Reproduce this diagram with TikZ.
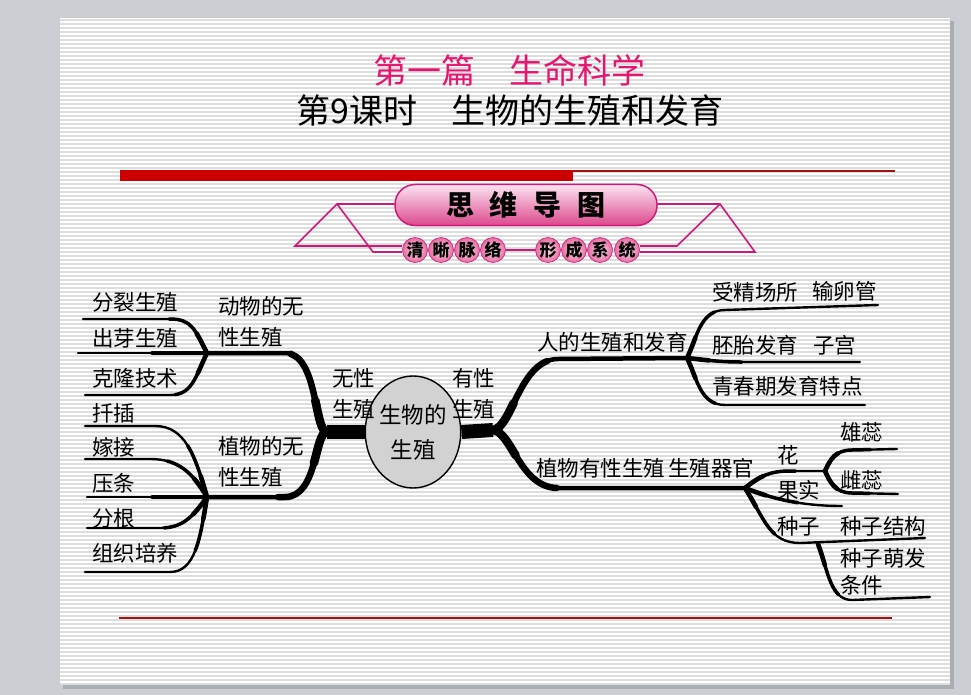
\documentclass[tikz,border=0pt]{standalone}
\usepackage{fontspec}
\setmainfont{Noto Sans CJK SC}
\usetikzlibrary{shapes.geometric}
\definecolor{bggray}{RGB}{203,207,212}
\definecolor{shadowgray}{RGB}{170,174,180}
\definecolor{stripe}{RGB}{221,221,221}
\definecolor{titlepink}{RGB}{230,22,112}
\definecolor{barred}{RGB}{204,0,0}
\definecolor{darkred}{RGB}{160,20,20}
\definecolor{bpink}{RGB}{208,24,122}
\definecolor{pillhi}{RGB}{252,228,240}
\definecolor{pilllo}{RGB}{220,72,142}
\definecolor{ballin}{RGB}{252,218,232}
\definecolor{ballout}{RGB}{228,108,160}
\definecolor{ellfill}{RGB}{210,210,210}
\begin{document}
\begin{tikzpicture}[x=1pt,y=-1pt,
  lbl/.style={inner sep=0pt, anchor=west, font=\fontsize{21.5}{31}\selectfont, align=left},
  trunk/.style={line width=14pt},
  branch/.style={line width=4.5pt, line cap=round,
     postaction={draw, line width=6.5pt, dash pattern=on 90pt off 3000pt},
     postaction={draw, line width=8.5pt, dash pattern=on 35pt off 3000pt}},
  twig/.style={line width=2.4pt, line cap=round,
     postaction={draw, line width=3.5pt, dash pattern=on 55pt off 3000pt},
     postaction={draw, line width=4.6pt, dash pattern=on 22pt off 3000pt}},
  pinkline/.style={draw=bpink, line width=1.6pt},
  ball/.style={circle, minimum size=25pt, inner sep=0pt, shading=radial, inner color=ballin, outer color=ballout, draw=bpink, line width=0.6pt, font=\fontsize{17}{17}\selectfont\bfseries}
]
\useasboundingbox (0,0) rectangle (971,695);
% screen and slide
\fill[bggray] (0,0) rectangle (971,695);
\fill[shadowgray] (63,21) rectangle (954,689);
\fill[white] (60,18) rectangle (950,685);
\foreach \y in {20,24,...,684} \draw[stripe, line width=1.3pt] (60,\y) -- (950,\y);

% titles
\node[font=\fontsize{34}{34}\selectfont, text=titlepink, inner sep=0pt] (t1) at (509,70) {第一篇　生命科学};
\node[font=\fontsize{34}{34}\selectfont, inner sep=0pt] (t2) at (510,111) {第9课时　生物的生殖和发育};

% red rules
\fill[barred] (120,170) rectangle (573,181);
\draw[darkred, line width=1.5pt] (573,171) -- (895,171);
\draw[darkred, line width=1.5pt] (119,618) -- (892,618);

% banner
\node[rectangle, rounded corners=20pt, minimum width=262pt, minimum height=41pt, inner sep=0pt,
      top color=pillhi, bottom color=pilllo, draw=bpink, line width=1.5pt,
      font=\fontsize{28}{28}\selectfont\bfseries] (banner) at (526,205) {思\hspace{16pt}维\hspace{16pt}导\hspace{16pt}图};
\node[ball] (b1) at (415,250) {清};
\node[ball] (b2) at (441,250) {晰};
\node[ball] (b3) at (467,250) {脉};
\node[ball] (b4) at (493,250) {络};
\node[ball] (b5) at (548,250) {形};
\node[ball] (b6) at (574,250) {成};
\node[ball] (b7) at (600,250) {系};
\node[ball] (b8) at (627,250) {统};
\coordinate (lapex) at (337,204);
\coordinate (lout) at (295,246);
\coordinate (lin) at (373,252);
\coordinate (rapex) at (720,204);
\coordinate (rin) at (677,246);
\coordinate (rout) at (755,252);
\draw[pinkline] (banner.west |- lapex) -- (lapex) -- (lout) -- (lout -| b1.west);
\draw[pinkline] (lapex) -- (lin) -- (lin -| b1.west);
\draw[pinkline] (banner.east |- rapex) -- (rapex) -- (rout) -- (rout -| b8.east);
\draw[pinkline] (rapex) -- (rin) -- (rin -| b8.east);
\draw[pinkline] (b4.east) -- (b5.west);

% centre
\node[ellipse, draw, line width=1.4pt, fill=ellfill, minimum width=73pt, minimum height=112pt, inner sep=0pt,
      align=center, font=\fontsize{22.5}{35}\selectfont] (c) at (413,432) {生物的\\生殖};

% branch points
\coordinate (LF) at (327,432);
\coordinate (LA) at (207,353);
\coordinate (LP) at (207,497);
\coordinate (RF) at (493,430);
\coordinate (RH) at (687,358);
\coordinate (RP) at (745,488);
\coordinate (RFl) at (825,471);
\coordinate (RS) at (818,544);
% free ends
\coordinate (e1) at (83,319);
\coordinate (e2) at (78,353);
\coordinate (e3) at (85,395);
\coordinate (e4) at (85,426);
\coordinate (e5) at (85,459);
\coordinate (e6) at (87,497);
\coordinate (e7) at (87,528);
\coordinate (e8) at (85,572);
\coordinate (f1) at (878,305);
\coordinate (f2) at (860,362);
\coordinate (f3) at (865,405);
\coordinate (g1) at (842,506);
\coordinate (g2) at (925,538);
\coordinate (g3) at (897,449);
\coordinate (g4) at (898,494);
\coordinate (g5) at (930,597);

% trunks
\draw[trunk] (c.west) -- (LF);
\draw[trunk] (c.east) -- (RF);
% left main branches
\draw[branch] (LF) .. controls (314,432) and (318,353) .. (285,353) -- (LA);
\draw[branch] (LF) .. controls (314,432) and (318,497) .. (285,497) -- (LP);
% right main branches
\draw[branch] (RF) .. controls (512,428) and (520,359) .. (558,359) -- (RH);
\draw[branch] (RF) .. controls (512,432) and (520,488) .. (558,488) -- (RP);
% left twigs
\draw[twig] (LA) .. controls (195,330) and (192,319) .. (170,319) -- (e1);
\draw[twig] (LA) -- (e2);
\draw[twig] (LA) .. controls (195,378) and (192,395) .. (170,395) -- (e3);
\draw[twig] (LP) .. controls (195,455) and (185,426) .. (155,426) -- (e4);
\draw[twig] (LP) .. controls (192,472) and (178,459) .. (150,459) -- (e5);
\draw[twig] (LP) -- (e6);
\draw[twig] (LP) .. controls (192,518) and (182,528) .. (160,528) -- (e7);
\draw[twig] (LP) .. controls (200,540) and (195,572) .. (170,572) -- (e8);
% right twigs
\draw[twig] (RH) .. controls (697,338) and (700,310) .. (725,310) -- (f1);
\draw[twig] (RH) .. controls (705,360) and (720,362) .. (740,362) -- (f2);
\draw[twig] (RH) .. controls (697,378) and (700,405) .. (725,405) -- (f3);
\draw[twig] (RP) .. controls (760,476) and (770,471) .. (790,471) -- (RFl);
\draw[twig] (RP) .. controls (770,498) and (800,506) .. (g1);
\draw[twig] (RP) .. controls (765,520) and (770,543) .. (800,543) -- (g2);
\draw[twig] (RFl) .. controls (830,460) and (835,450) .. (852,450) -- (g3);
\draw[twig] (RFl) .. controls (830,482) and (835,493) .. (852,493) -- (g4);
\draw[twig] (RS) .. controls (828,570) and (830,600) .. (852,600) -- (g5);

% labels left
\node[lbl] (n1) at (92,302) {分裂生殖};
\node[lbl] (n2) at (92,338) {出芽生殖};
\node[lbl] (n3) at (92,378) {克隆技术};
\node[lbl] (n4) at (92,413) {扦插};
\node[lbl] (n5) at (92,447) {嫁接};
\node[lbl] (n6) at (92,483) {压条};
\node[lbl] (n7) at (92,518) {分根};
\node[lbl] (n8) at (92,553) {组织培养};
\node[lbl] (animal) at (218,322) {动物的无\\性生殖};
\node[lbl] (plant) at (218,462) {植物的无\\性生殖};
\node[lbl] (asex) at (332,394) {无性\\生殖};
\node[lbl] (sex) at (452,394) {有性\\生殖};
% labels right
\node[lbl] (human) at (537,342) {人的生殖和发育};
\node[lbl] (m1) at (712,292) {受精场所};
\node[lbl] (m1b) at (812,291) {输卵管};
\node[lbl] (m2) at (712,345) {胚胎发育};
\node[lbl] (m2b) at (813,345) {子宫};
\node[lbl] (m3) at (712,386) {青春期发育特点};
\node[lbl] (psex) at (536,468) {植物有性生殖};
\node[lbl] (organ) at (668,468) {生殖器官};
\node[lbl] (flower) at (777,455) {花};
\node[lbl] (fruit) at (777,490) {果实};
\node[lbl] (seed) at (777,526) {种子};
\node[lbl] (stamen) at (840,432) {雄蕊};
\node[lbl] (pistil) at (840,480) {雌蕊};
\node[lbl] (sstruct) at (840,526) {种子结构};
\node[lbl, font=\fontsize{21.5}{27}\selectfont] (sgerm) at (840,572) {种子萌发\\条件};
\end{tikzpicture}
\end{document}
